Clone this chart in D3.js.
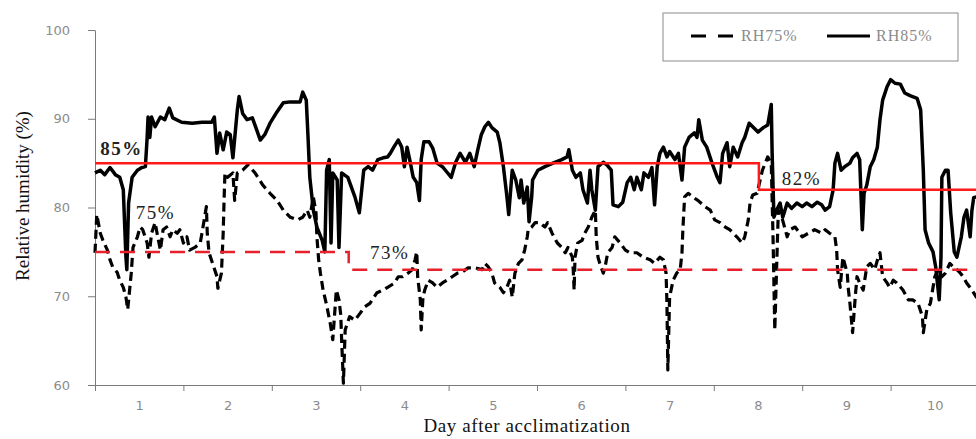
<!DOCTYPE html>
<html>
<head>
<meta charset="utf-8">
<script src="https://cdn.jsdelivr.net/npm/d3@7"></script>
<style>
  body { margin: 0; background: #fff; }
  svg { display: block; }
</style>
</head>
<body>
<svg id="chart" width="976" height="439"></svg>
<script>
// Day labels sit in the middle of each day interval
const dayLabels = ["1", "2", "3", "4", "5", "6", "7", "8", "9", "10"];
const yTicks = [60, 70, 80, 90, 100];
const seriesNames = ["RH75%", "RH85%"];

// RH85% chamber record (days since start, % RH)
const rh85Days = [0,0.06,0.11,0.17,0.23,0.28,0.32,0.35,0.36,0.38,
  0.42,0.48,0.53,0.57,0.59,0.60,0.62,0.64,0.68,0.74,
  0.79,0.84,0.88,0.98,1.10,1.21,1.32,1.35,1.38,1.41,
  1.45,1.49,1.53,1.56,1.61,1.63,1.67,1.72,1.78,1.82,
  1.87,1.92,1.98,2.06,2.13,2.21,2.32,2.35,2.39,2.41,
  2.43,2.47,2.51,2.57,2.60,2.62,2.65,2.67,2.69,2.74,
  2.76,2.79,2.86,2.94,2.99,3.04,3.09,3.14,3.20,3.26,
  3.31,3.34,3.38,3.43,3.47,3.50,3.53,3.56,3.60,3.64,
  3.67,3.69,3.72,3.78,3.82,3.87,3.93,3.98,4.03,4.08,
  4.13,4.19,4.24,4.29,4.33,4.37,4.41,4.45,4.49,4.55,
  4.58,4.62,4.66,4.68,4.72,4.76,4.80,4.82,4.85,4.89,
  4.91,4.94,4.95,5.01,5.09,5.18,5.28,5.34,5.36,5.40,
  5.44,5.49,5.52,5.57,5.60,5.62,5.66,5.69,5.75,5.79,
  5.84,5.86,5.92,5.97,6.02,6.06,6.10,6.13,6.18,6.21,
  6.26,6.30,6.33,6.36,6.39,6.43,6.47,6.50,6.56,6.60,
  6.64,6.67,6.72,6.78,6.81,6.83,6.87,6.92,6.98,7.04,
  7.07,7.10,7.15,7.18,7.22,7.27,7.32,7.35,7.40,7.44,
  7.50,7.56,7.61,7.65,7.66,7.68,7.71,7.75,7.78,7.83,
  7.88,7.94,8.00,8.05,8.11,8.17,8.22,8.26,8.31,8.35,
  8.37,8.40,8.44,8.48,8.54,8.57,8.62,8.65,8.68,8.70,
  8.73,8.77,8.81,8.85,8.88,8.91,8.96,9.00,9.05,9.11,
  9.16,9.22,9.30,9.34,9.37,9.39,9.43,9.48,9.51,9.55,
  9.57,9.58,9.62,9.65,9.68,9.72,9.75,9.80,9.83,9.86,
  9.90,9.92,9.94,9.97,10.0];
const rh85Values = [83.9,84.2,83.7,84.5,83.7,83.4,82.0,74.4,73.0,80.5,
  83.4,84.2,84.5,84.6,87.9,90.2,87.9,90.2,89.1,90.2,
  89.9,91.2,90.1,89.6,89.5,89.6,89.6,90.2,86.1,88.4,
  86.5,88.5,88.2,85.6,91.0,92.5,90.6,89.9,90.1,89.0,
  87.6,88.2,89.5,90.8,91.8,91.9,91.9,93.0,92.1,87.9,
  83.4,79.7,77.8,76.3,75.0,84.2,85.4,76.0,83.9,83.1,
  75.5,83.9,83.4,81.2,79.4,84.2,84.6,84.2,85.4,85.6,
  85.7,86.1,86.8,87.6,86.8,84.6,86.8,85.4,83.4,82.8,
  80.8,85.4,87.4,87.4,86.7,85.0,84.6,84.0,83.4,85.1,
  86.1,85.1,86.1,84.6,86.5,88.2,89.1,89.6,89.0,88.5,
  87.3,84.6,81.2,79.2,84.2,83.1,81.1,83.1,80.5,82.3,
  78.4,81.2,83.1,84.2,84.6,85.0,85.4,85.7,86.5,84.2,
  83.4,83.9,82.0,80.5,84.2,82.0,79.7,84.6,85.1,84.8,
  84.2,80.3,80.1,80.6,82.8,83.4,82.0,83.4,82.0,83.9,
  83.4,84.5,80.3,84.6,86.1,86.8,85.7,86.3,85.4,86.1,
  83.1,86.8,87.9,88.4,87.9,89.9,87.6,86.8,85.0,83.4,
  82.8,86.1,87.3,84.6,86.8,85.7,87.3,87.9,89.5,89.1,
  88.5,89.0,89.3,91.6,86.1,78.9,79.7,80.5,78.9,80.5,
  79.9,80.5,80.1,80.5,80.1,80.6,80.3,79.7,80.1,82.0,
  85.0,86.1,84.2,84.6,85.0,85.6,86.1,85.4,77.5,81.6,
  82.5,84.6,85.4,86.8,89.9,92.1,93.6,94.4,94.0,93.9,
  92.9,92.6,92.3,91.0,84.2,77.5,76.0,75.0,73.3,69.6,
  74.4,83.4,84.2,84.2,79.4,75.0,74.4,76.7,78.9,79.7,
  76.7,79.7,81.1,81.2,81.4];

// RH75% chamber record (days since start, % RH)
const rh75Days = [0,0.02,0.06,0.09,0.14,0.17,0.20,0.25,0.28,0.32,
  0.35,0.37,0.41,0.43,0.48,0.51,0.54,0.59,0.61,0.64,
  0.68,0.71,0.74,0.77,0.81,0.85,0.88,0.93,0.96,1.00,
  1.04,1.07,1.13,1.19,1.21,1.26,1.27,1.29,1.33,1.38,
  1.39,1.43,1.45,1.46,1.47,1.50,1.56,1.58,1.61,1.67,
  1.73,1.81,1.90,1.98,2.06,2.13,2.21,2.29,2.35,2.40,
  2.43,2.47,2.50,2.51,2.53,2.55,2.58,2.62,2.66,2.69,
  2.73,2.76,2.78,2.79,2.81,2.83,2.88,2.94,3.00,3.05,
  3.11,3.19,3.26,3.31,3.39,3.43,3.48,3.54,3.59,3.62,
  3.64,3.65,3.68,3.69,3.71,3.73,3.77,3.82,3.87,3.93,
  3.98,4.04,4.10,4.15,4.22,4.30,4.38,4.41,4.45,4.49,
  4.52,4.58,4.62,4.66,4.69,4.72,4.75,4.79,4.83,4.86,
  4.89,4.90,4.94,4.98,5.03,5.09,5.12,5.17,5.23,5.28,
  5.32,5.35,5.40,5.41,5.42,5.43,5.46,5.51,5.54,5.58,
  5.62,5.66,5.67,5.69,5.71,5.75,5.77,5.80,5.85,5.88,
  5.94,6.00,6.05,6.13,6.20,6.28,6.33,6.39,6.43,6.46,
  6.47,6.48,6.50,6.54,6.58,6.62,6.64,6.65,6.67,6.71,
  6.76,6.82,6.90,6.96,7.01,7.07,7.13,7.18,7.26,7.32,
  7.35,7.39,7.41,7.44,7.49,7.55,7.61,7.65,7.67,7.69,
  7.71,7.73,7.77,7.83,7.86,7.92,8.00,8.07,8.14,8.22,
  8.26,8.31,8.37,8.39,8.40,8.43,8.46,8.51,8.52,8.54,
  8.56,8.57,8.60,8.62,8.65,8.69,8.73,8.77,8.82,8.86,
  8.88,8.91,8.96,8.99,9.03,9.07,9.14,9.20,9.25,9.31,
  9.36,9.37,9.41,9.45,9.50,9.54,9.58,9.62,9.67,9.71,
  9.75,9.79,9.82,9.86,9.92,9.97,10.0];
const rh75Values = [74.9,79.2,77.1,76.3,75.2,74.1,73.3,72.7,71.8,71.0,
  69.9,68.5,72.6,75.5,76.7,77.8,77.5,76.0,74.4,77.1,
  78.3,76.7,75.2,77.5,77.8,76.7,77.5,77.1,77.5,76.0,
  76.7,75.2,75.5,76.0,77.1,80.1,77.1,74.9,73.7,72.2,
  70.9,72.6,77.1,80.8,83.9,83.4,83.9,80.8,83.9,84.2,
  84.8,83.9,82.5,81.6,80.8,79.7,78.9,78.6,78.9,79.7,
  78.9,81.2,79.4,76.7,74.1,72.6,70.7,69.0,67.0,65.1,
  70.7,69.6,67.9,65.1,60.2,66.2,67.7,67.3,68.1,68.8,
  69.2,70.4,70.7,71.0,71.5,72.2,72.2,72.6,73.0,74.1,
  75.0,72.2,69.6,66.2,69.9,70.7,71.8,71.5,71.0,71.5,
  71.8,72.2,72.6,72.7,73.2,73.2,73.0,73.7,73.3,72.6,
  71.5,71.0,70.4,71.0,71.8,69.9,72.6,73.7,74.1,75.2,
  76.7,77.5,77.8,78.3,78.3,77.8,78.3,77.1,76.0,75.5,
  74.9,75.5,74.4,73.0,70.7,74.4,76.0,76.3,77.1,77.8,
  78.9,79.7,76.7,74.4,73.7,72.6,73.3,74.9,75.5,76.7,
  76.0,75.2,74.9,74.9,74.4,74.1,73.7,74.4,74.1,72.6,
  69.2,61.7,69.9,71.8,72.6,73.0,74.9,77.5,81.2,81.6,
  81.2,80.8,80.1,79.7,78.6,78.3,77.8,77.5,76.7,76.0,
  76.7,78.6,80.5,81.4,81.6,84.2,85.7,85.0,76.7,66.2,
  73.0,79.7,78.9,76.7,77.5,77.8,76.7,77.1,77.5,77.1,
  77.5,77.1,76.7,75.2,73.0,71.0,74.4,72.6,71.0,69.2,
  67.0,65.9,69.9,72.2,71.5,70.7,73.3,73.7,73.0,74.4,
  74.9,72.2,71.5,71.0,71.8,71.5,70.7,69.6,69.6,69.2,
  67.7,65.9,68.5,69.2,72.2,73.0,72.2,72.6,73.7,73.3,
  73.0,72.6,72.2,71.5,70.7,69.9,70.7];

// Set points (step changes) for each chamber
const set85Days = [0, 7.51, 10];
const set85Values = [85, 82, 82];
const set75Days = [0, 2.87, 10];
const set75Values = [75, 73, 73];

// Set-point annotations: position (day) and value
const noteDays = [0.06, 0.46, 3.11, 7.77];
const noteValues = [85, 75, 73, 82];

const svg = d3.select("#chart");

const x = d3.scaleLinear().domain([0, 10]).range([95, 979]);
const y = d3.scaleLinear().domain([60, 100]).range([385, 30]);

// Axes
const axisColor = "#7a7a7a";
const yAxis = svg.append("g")
  .attr("transform", `translate(${x(0)},0)`)
  .call(d3.axisLeft(y).tickValues(yTicks).tickSize(7).tickSizeOuter(0).tickPadding(18));
yAxis.select(".domain").attr("stroke", axisColor);
yAxis.selectAll(".tick line").attr("stroke", axisColor);
yAxis.selectAll(".tick text")
  .attr("fill", "#8c8c8c")
  .style("font-family", "'DejaVu Sans', sans-serif")
  .style("font-size", "13px");

const xAxis = svg.append("g")
  .attr("transform", `translate(0,${y(60)})`)
  .call(d3.axisBottom(x).tickValues(d3.range(0, 11)).tickFormat("").tickSize(6).tickSizeOuter(0));
xAxis.select(".domain").attr("stroke", axisColor);
xAxis.selectAll(".tick line").attr("stroke", axisColor);

const xLabels = svg.append("g")
  .attr("transform", `translate(0,${y(60)})`)
  .call(d3.axisBottom(x)
    .tickValues(dayLabels.map((d, i) => i + 0.5))
    .tickFormat((d, i) => dayLabels[i])
    .tickSize(0).tickPadding(16));
xLabels.select(".domain").remove();
xLabels.selectAll(".tick text")
  .attr("fill", "#8c8c8c")
  .style("font-family", "'DejaVu Sans', sans-serif")
  .style("font-size", "13px");

// Axis titles
svg.append("text")
  .attr("transform", "translate(29,196) rotate(-90)")
  .attr("text-anchor", "middle")
  .style("font-family", "'Liberation Serif', 'Times New Roman', serif")
  .style("font-size", "19px")
  .attr("fill", "#111")
  .text("Relative humidity (%)");

svg.append("text")
  .attr("x", 527).attr("y", 432)
  .attr("text-anchor", "middle")
  .style("font-family", "'Liberation Serif', 'Times New Roman', serif")
  .style("font-size", "19px")
  .style("letter-spacing", "0.6px")
  .attr("fill", "#111")
  .text("Day after acclimatization");

// Data lines
const line = d3.line().x(d => x(d[0])).y(d => y(d[1])).curve(d3.curveLinear);
const stepLine = d3.line().x(d => x(d[0])).y(d => y(d[1])).curve(d3.curveStepAfter);

const plot = svg.append("g");

plot.append("path")
  .datum(d3.zip(rh75Days, rh75Values))
  .attr("d", line)
  .attr("fill", "none")
  .attr("stroke", "#000")
  .attr("stroke-width", 3.2)
  .attr("stroke-dasharray", "9,5")
  .attr("stroke-linejoin", "round");

plot.append("path")
  .datum(d3.zip(rh85Days, rh85Values))
  .attr("d", line)
  .attr("fill", "none")
  .attr("stroke", "#000")
  .attr("stroke-width", 3.5)
  .attr("stroke-linejoin", "round");

// Set-point lines
plot.append("path")
  .datum(d3.zip(set85Days, set85Values))
  .attr("d", stepLine)
  .attr("fill", "none")
  .attr("stroke", "#ff1a1a")
  .attr("stroke-width", 2.5);

plot.append("path")
  .datum(d3.zip(set75Days, set75Values))
  .attr("d", stepLine)
  .attr("fill", "none")
  .attr("stroke", "#e8202a")
  .attr("stroke-width", 2.5)
  .attr("stroke-dasharray", "15,10");

// Set-point annotations, lifted clear of the traces
const noteOffsets = [8, 33, 11, 5];
svg.append("g").selectAll("text")
  .data(noteValues)
  .join("text")
  .attr("x", (d, i) => x(noteDays[i]))
  .attr("y", (d, i) => y(d) - noteOffsets[i])
  .style("font-family", "'Liberation Serif', 'Times New Roman', serif")
  .style("font-size", "19px")
  .style("font-weight", (d, i) => i === 0 ? "bold" : "normal")
  .style("letter-spacing", "1.5px")
  .attr("fill", "#222")
  .text(d => `${d}%`);

// Legend
const legend = svg.append("g");
legend.append("rect")
  .attr("x", 663).attr("y", 13).attr("width", 295).attr("height", 48)
  .attr("fill", "#fff").attr("stroke", "#8a8a8a").attr("stroke-width", 1);
legend.append("line")
  .attr("x1", 691).attr("x2", 733).attr("y1", 36).attr("y2", 36)
  .attr("stroke", "#000").attr("stroke-width", 3).attr("stroke-dasharray", "15,12");
legend.append("text")
  .attr("x", 741).attr("y", 41)
  .style("font-family", "'Liberation Serif', 'Times New Roman', serif")
  .style("font-size", "16px").style("letter-spacing", "1px")
  .attr("fill", "#8a8a8a")
  .text(seriesNames[0]);
legend.append("line")
  .attr("x1", 827).attr("x2", 870).attr("y1", 36).attr("y2", 36)
  .attr("stroke", "#000").attr("stroke-width", 3);
legend.append("text")
  .attr("x", 876).attr("y", 41)
  .style("font-family", "'Liberation Serif', 'Times New Roman', serif")
  .style("font-size", "16px").style("letter-spacing", "1px")
  .attr("fill", "#8a8a8a")
  .text(seriesNames[1]);
</script>
</body>
</html>
